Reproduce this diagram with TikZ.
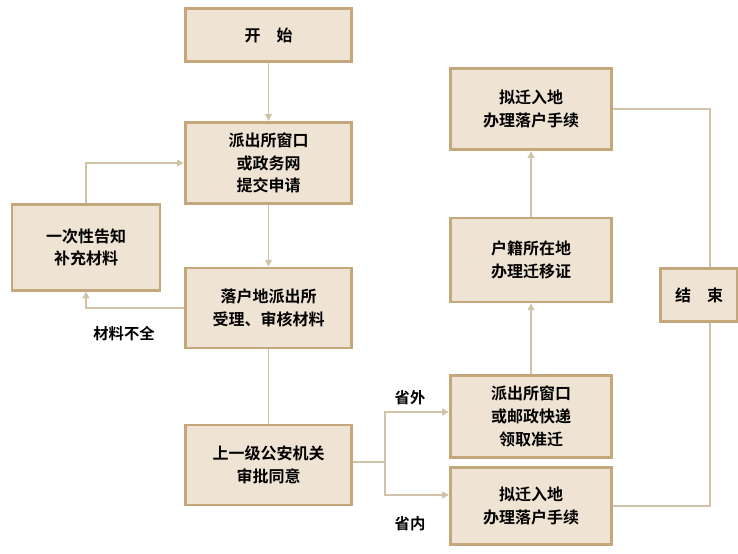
\documentclass[tikz,border=0pt]{standalone}
\usepackage{fontspec}
\setmainfont{Noto Sans CJK SC}[BoldFont={Noto Sans CJK SC Bold}]
\usetikzlibrary{arrows.meta}
\definecolor{boxfill}{HTML}{EFE4D3}
\definecolor{boxline}{HTML}{C4A77A}
\definecolor{linkline}{HTML}{D2C2A8}
\begin{document}
\begin{tikzpicture}[
        x=0.75pt, y=-0.75pt,
        >={Triangle[length=5pt,width=5pt]},
        stepbox/.style={draw=boxline, fill=boxfill, line width=2.2pt, align=center,
            font=\bfseries\fontsize{12}{17}\selectfont, inner sep=0pt},
        link/.style={draw=linkline, line width=1.2pt},
        tag/.style={font=\bfseries\fontsize{11.5}{14}\selectfont},
    ]
    \useasboundingbox (0,0) rectangle (738,553);

    %Left column
    \node [stepbox, minimum width=125pt, minimum height=40pt] (start) at (268.5,35) {开\quad 始};
    \node [stepbox, minimum width=125pt, minimum height=61pt] (apply) at (268.5,163) {派出所窗口\\或政务网\\提交申请};
    \node [stepbox, minimum width=111pt, minimum height=64pt] (notice) at (86,247.5) {一次性告知\\补充材料};
    \node [stepbox, minimum width=125pt, minimum height=60pt] (check) at (268.5,308) {落户地派出所\\受理、审核材料};
    \node [stepbox, minimum width=125pt, minimum height=60pt] (approve) at (268.5,465) {上一级公安机关\\审批同意};

    %Right column
    \node [stepbox, minimum width=121pt, minimum height=61pt] (moveintop) at (531,109) {拟迁入地\\办理落户手续};
    \node [stepbox, minimum width=121pt, minimum height=63pt] (transfer) at (531,260) {户籍所在地\\办理迁移证};
    \node [stepbox, minimum width=121pt, minimum height=62pt] (collect) at (531,416.5) {派出所窗口\\或邮政快递\\领取准迁};
    \node [stepbox, minimum width=121pt, minimum height=58pt] (moveinlow) at (531,506) {拟迁入地\\办理落户手续};
    \node [stepbox, minimum width=58pt, minimum height=40pt] (finish) at (699,295) {结\quad 束};

    %Labels
    \node [tag] (lack) at (124,334) {材料不全};
    \node [tag] (outside) at (410,398) {省外};
    \node [tag] (inside) at (410,524) {省内};

    \coordinate (split) at (385,462);
    \coordinate (rightrail) at (710,295);

    %Connectors
    \draw [link,->] (start) -- (apply);
    \draw [link,->] (apply) -- (check);
    \draw [link,->] (check.west) -| (notice.south);
    \draw [link,->] (notice.north) |- (apply.west);
    \draw [link] (check) -- (approve);
    \draw [link] (approve.east |- split) -- (split);
    \draw [link,->] (split) |- (collect.west |- 0,412);
    \draw [link,->] (split) |- (moveinlow.west |- 0,495);
    \draw [link,->] (collect) -- (transfer);
    \draw [link,->] (transfer) -- (moveintop);
    \draw [link] (moveintop.east) -| (rightrail |- finish.north);
    \draw [link] (moveinlow.east) -| (rightrail |- finish.south);
\end{tikzpicture}
\end{document}
